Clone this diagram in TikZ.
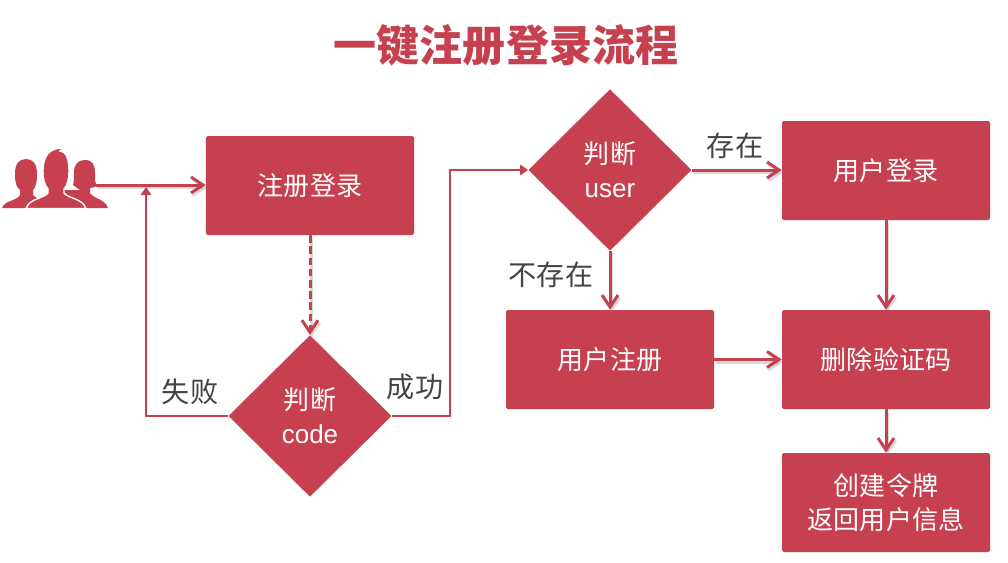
\documentclass[tikz,border=0pt]{standalone}
\usepackage{fontspec}
\setmainfont{Liberation Sans}
\newfontfamily\cjk{Noto Sans CJK SC}
\usetikzlibrary{shapes.geometric,arrows.meta,positioning,calc}
\definecolor{rd}{RGB}{199,64,80}
\definecolor{tx}{RGB}{68,68,68}

\begin{document}
\begin{tikzpicture}[
    x=0.25mm,y=-0.25mm,
    blk/.style={rectangle,fill=rd,rounded corners=0.4mm,minimum width=52mm,minimum height=24.75mm,inner sep=0pt,align=center,text=white,font=\cjk\fontsize{18.5}{24}\selectfont},
    dia/.style={diamond,aspect=1,fill=rd,minimum width=40.8mm,minimum height=40.4mm,inner sep=0pt,align=center,text=white,font=\fontsize{18.5}{24}\selectfont},
    lbl/.style={text=tx,inner sep=0pt,font=\cjk\fontsize{20}{24}\selectfont},
    shd/.style={preaction={draw=black!50,opacity=0.3,line width=0.9mm,transform canvas={shift={(0.4mm,-0.6mm)}}}},
    arr/.style={draw=rd,line width=0.75mm,-{Straight Barb[length=3mm,width=4mm,line width=0.75mm]},shd},
    arrs/.style={draw=rd,line width=0.5mm,-{Triangle[length=2mm,width=2.6mm]}},
    ppl/.style={fill=rd,draw=none},
]
\useasboundingbox (0,0) rectangle (1008,563);

\node[inner sep=0pt,text=rd,font=\cjk\bfseries\fontsize{30.6}{34}\selectfont] (title) at (506,45) {一键注册登录流程};

% users
\fill[ppl] (15,174) .. controls (15,164) and (19,159) .. (26,159) .. controls (33,159) and (37,164) .. (37,174) .. controls (37,182) and (36,187) .. (33,190) -- (33,195) .. controls (37,199) and (42,200) .. (48,204) -- (48,208) -- (2,208) .. controls (5,200) and (17,201) .. (20,195) -- (20,190) .. controls (16,187) and (15,182) .. (15,174) -- cycle;
\fill[ppl] (74,173) .. controls (74,164) and (78,160) .. (85,160) .. controls (92,160) and (95,164) .. (95,173) .. controls (95,179) and (95,183) .. (97,186) .. controls (95,187) and (92,188) .. (90,188) -- (90,193) .. controls (94,199) and (105,199) .. (108,208) -- (62,208) -- (62,190) -- (80,190) .. controls (78,188) and (75,187) .. (73,185) .. controls (74,182) and (74,178) .. (74,173) -- cycle;
\filldraw[ppl,draw=white,line width=0.35mm] (43,171) .. controls (43,156) and (49,148) .. (63,148) -- (60,151) .. controls (67,152) and (69,160) .. (69,171) .. controls (69,180) and (67,186) .. (64,189) -- (64,193) .. controls (69,199) and (82,198) .. (86,208.5) -- (26,208.5) .. controls (30,198) and (43,199) .. (48,193) -- (48,189) .. controls (45,186) and (43,180) .. (43,171) -- cycle;
\coordinate (users) at (96,185);

\node[blk] (reg) at (310,185.5) {注册登录};
\node[dia] (code) at (310,416) {{\cjk 判断}\\code};
\node[dia] (user) at (610,170) {{\cjk 判断}\\user};
\node[blk] (login) at (886,170.5) {用户登录};
\node[blk] (signup) at (610,359.5) {用户注册};
\node[blk] (delcode) at (886,359.5) {删除验证码};
\node[blk,font=\cjk\fontsize{18.5}{24.5}\selectfont] (token) at (886,502.5) {创建令牌\\返回用户信息};

\node[lbl] (fail) at (190,392) {失败};
\node[lbl] (ok) at (415,387) {成功};
\node[lbl] (yes) at (735,146) {存在};
\node[lbl] (no) at (551,275) {不存在};

\coordinate (merge) at (146,187);
\coordinate (bend) at (450,416);

\draw[arr] (users) -- (reg.west |- users);
\draw[arr,dash pattern=on 1.9mm off 0.9mm] (reg.south) -- (code.north);
\draw[arrs] (code.west) -| (merge);
\draw[arrs] (code.east) -- (bend) |- (user.west);
\draw[arr] (user.east) -- (login.west |- user.east);
\draw[arr] (user.south) -- (signup.north);
\draw[arr] (login.south) -- (delcode.north);
\draw[arr] (signup.east) -- (delcode.west);
\draw[arr] (delcode.south) -- (token.north);
\end{tikzpicture}
\end{document}
